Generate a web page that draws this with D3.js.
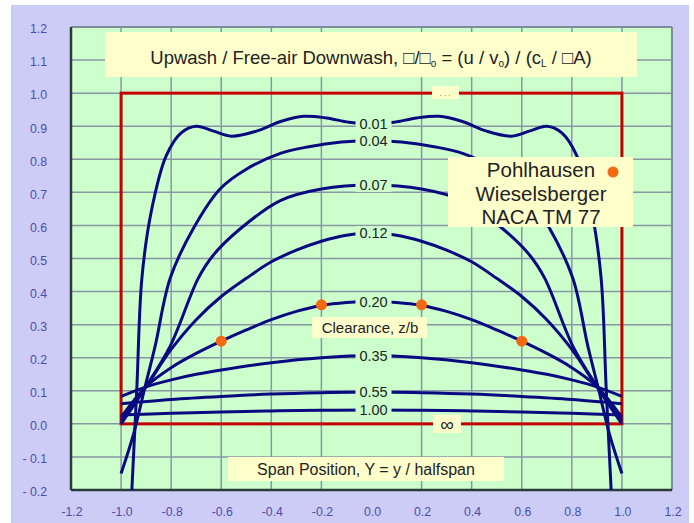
<!DOCTYPE html>
<html lang="en">
<head>
<meta charset="UTF-8">
<title>Ground effect upwash</title>
<script src="https://cdn.jsdelivr.net/npm/d3@7"></script>
<style>
    body { margin: 0; background: #fff; }
    svg text { font-family: Arial, "Liberation Sans", sans-serif; }
    .tick-label { fill: #4c4cac; font-size: 12.3px; }
    .grid line { stroke: #8896a4; stroke-width: 1.5; }
</style>
</head>
<body>
<svg id="chart" width="694" height="523"></svg>
<script>
    // clearance ratio z/b, one curve each
    var clearances = ["0.01", "0.04", "0.07", "0.12", "0.20", "0.35", "0.55", "1.00"];

    var c001 = [[-0.957,-0.20],[-0.937,0.11],[-0.917,0.44],[-0.88,0.64],[-0.82,0.81],[-0.76,0.88],[-0.70,0.90],[-0.63,0.885],[-0.56,0.87],[-0.46,0.885],[-0.36,0.915],[-0.27,0.93],[-0.18,0.925],[-0.09,0.912],[0,0.907],
                [0.09,0.912],[0.18,0.925],[0.27,0.93],[0.36,0.915],[0.46,0.885],[0.56,0.87],[0.63,0.885],[0.70,0.90],[0.76,0.88],[0.82,0.81],[0.88,0.64],[0.917,0.44],[0.937,0.11],[0.957,-0.20]];
    var c004 = [[-1.0,-0.15],[-0.95,-0.03],[-0.904,0.113],[-0.864,0.235],[-0.804,0.44],[-0.712,0.59],[-0.604,0.711],[-0.5,0.77],[-0.364,0.818],[-0.25,0.838],[-0.12,0.852],[0,0.857],
                [0.12,0.852],[0.25,0.838],[0.364,0.818],[0.5,0.77],[0.604,0.711],[0.712,0.59],[0.804,0.44],[0.864,0.235],[0.904,0.113],[0.95,-0.03],[1.0,-0.15]];
    var c007 = [[-1.0,0.0],[-0.95,0.055],[-0.9,0.113],[-0.804,0.235],[-0.692,0.44],[-0.632,0.51],[-0.524,0.59],[-0.364,0.675],[-0.2,0.71],[0,0.722],
                [0.2,0.71],[0.364,0.675],[0.524,0.59],[0.632,0.51],[0.692,0.44],[0.804,0.235],[0.9,0.113],[0.95,0.055],[1.0,0.0]];
    var c012 = [[-1.0,0.01],[-0.9,0.113],[-0.8,0.225],[-0.7,0.315],[-0.6,0.385],[-0.5,0.44],[-0.4,0.49],[-0.3,0.525],[-0.2,0.552],[-0.1,0.57],[0,0.577],
                [0.1,0.57],[0.2,0.552],[0.3,0.525],[0.4,0.49],[0.5,0.44],[0.6,0.385],[0.7,0.315],[0.8,0.225],[0.9,0.113],[1.0,0.01]];
    var c020 = [[-1.0,0.02],[-0.9,0.113],[-0.8,0.17],[-0.7,0.213],[-0.6,0.25],[-0.5,0.284],[-0.4,0.315],[-0.3,0.34],[-0.2,0.358],[-0.1,0.367],[0,0.37],
                [0.1,0.367],[0.2,0.358],[0.3,0.34],[0.4,0.315],[0.5,0.284],[0.6,0.25],[0.7,0.213],[0.8,0.17],[0.9,0.113],[1.0,0.02]];
    var c035 = [[-1.0,0.083],[-0.9,0.112],[-0.8,0.133],[-0.7,0.15],[-0.6,0.163],[-0.4,0.185],[-0.2,0.2],[0,0.207],
                [0.2,0.2],[0.4,0.185],[0.6,0.163],[0.7,0.15],[0.8,0.133],[0.9,0.112],[1.0,0.083]];
    var c055 = [[-1.0,0.061],[-0.8,0.074],[-0.6,0.083],[-0.4,0.09],[-0.2,0.094],[0,0.096],
                [0.2,0.094],[0.4,0.09],[0.6,0.083],[0.8,0.074],[1.0,0.061]];
    var c100 = [[-1.0,0.027],[-0.8,0.032],[-0.6,0.036],[-0.4,0.039],[-0.2,0.041],[0,0.042],
                [0.2,0.041],[0.4,0.039],[0.6,0.036],[0.8,0.032],[1.0,0.027]];

    var curves = [c001, c004, c007, c012, c020, c035, c055, c100];

    // Pohlhausen / Wieselsberger test points
    var pohlX = [-0.6, -0.2, 0.2, 0.6];
    var pohlY = [0.25, 0.36, 0.36, 0.25];

    var xTicks = [-1.2, -1.0, -0.8, -0.6, -0.4, -0.2, 0.0, 0.2, 0.4, 0.6, 0.8, 1.0, 1.2];
    var yTicks = [-0.2, -0.1, 0.0, 0.1, 0.2, 0.3, 0.4, 0.5, 0.6, 0.7, 0.8, 0.9, 1.0, 1.1, 1.2];

    var svg = d3.select("#chart");

    var pLeft = 71, pRight = 672, pTop = 27, pBottom = 490;

    var x = d3.scaleLinear().domain([-1.2, 1.2]).range([pLeft, pRight]);
    var y = d3.scaleLinear().domain([-0.2, 1.2]).range([pBottom, pTop]);

    // backgrounds
    svg.append("rect").attr("x", 11).attr("y", 5).attr("width", 678).attr("height", 518).attr("fill", "#ccccf6");
    svg.append("rect").attr("x", pLeft).attr("y", pTop).attr("width", pRight - pLeft).attr("height", pBottom - pTop)
        .attr("fill", "#ccffcc");

    // grid
    var grid = svg.append("g").attr("class", "grid");
    grid.selectAll("line.v")
        .data(xTicks.filter(function (d) { return Math.abs(d) > 1e-9; }))
        .enter().append("line")
        .attr("class", "v")
        .attr("x1", function (d) { return x(d); })
        .attr("x2", function (d) { return x(d); })
        .attr("y1", pTop).attr("y2", pBottom);
    grid.selectAll("line.h")
        .data(yTicks)
        .enter().append("line")
        .attr("class", "h")
        .attr("x1", pLeft).attr("x2", pRight)
        .attr("y1", function (d) { return y(d); })
        .attr("y2", function (d) { return y(d); });

    // plot frame: dark left/bottom, grey top/right
    svg.append("line").attr("x1", pLeft).attr("x2", pRight).attr("y1", pTop).attr("y2", pTop)
        .attr("stroke", "#7f8c99").attr("stroke-width", 2);
    svg.append("line").attr("x1", pRight).attr("x2", pRight).attr("y1", pTop).attr("y2", pBottom)
        .attr("stroke", "#7f8c99").attr("stroke-width", 2);
    svg.append("line").attr("x1", pLeft).attr("x2", pLeft).attr("y1", pTop).attr("y2", pBottom)
        .attr("stroke", "#2e3a3a").attr("stroke-width", 2.5);
    svg.append("line").attr("x1", pLeft).attr("x2", pRight).attr("y1", pBottom).attr("y2", pBottom)
        .attr("stroke", "#2e3a3a").attr("stroke-width", 2.5);

    // tick labels
    svg.append("g").selectAll("text")
        .data(yTicks)
        .enter().append("text")
        .attr("class", "tick-label")
        .attr("x", 47)
        .attr("y", function (d) { return y(d) + 2; })
        .attr("dy", "0.35em")
        .attr("text-anchor", "end")
        .text(function (d) { return d < 0 ? "- " + Math.abs(d).toFixed(1) : d.toFixed(1); });

    svg.append("g").selectAll("text")
        .data(xTicks)
        .enter().append("text")
        .attr("class", "tick-label")
        .attr("x", function (d) { return x(d) + 1; })
        .attr("y", 512)
        .attr("dy", "0.35em")
        .attr("text-anchor", "middle")
        .text(function (d) { return d.toFixed(1); });

    // title box
    svg.append("rect").attr("x", 105).attr("y", 32).attr("width", 532).attr("height", 45).attr("fill", "#ffffcc");
    var title = svg.append("text")
        .attr("x", 371).attr("y", 64)
        .attr("text-anchor", "middle")
        .attr("font-size", 18.5)
        .attr("fill", "#222");
    title.append("tspan").text("Upwash / Free-air Downwash, \u25a1/\u25a1");
    title.append("tspan").attr("font-size", 10).attr("dy", 3).text("o");
    title.append("tspan").attr("dy", -3).text(" = (u / v");
    title.append("tspan").attr("font-size", 10).attr("dy", 3).text("o");
    title.append("tspan").attr("dy", -3).text(") / (c");
    title.append("tspan").attr("font-size", 10).attr("dy", 3).text("L");
    title.append("tspan").attr("dy", -3).text(" / \u25a1A)");

    // red rectangle, span -1..1 by 0..1
    svg.append("rect")
        .attr("x", x(-1)).attr("y", y(1))
        .attr("width", x(1) - x(-1)).attr("height", y(0) - y(1))
        .attr("fill", "none").attr("stroke", "#c40000").attr("stroke-width", 3);

    // curves
    svg.append("clipPath").attr("id", "plotClip")
        .append("rect").attr("x", pLeft).attr("y", pTop).attr("width", pRight - pLeft).attr("height", pBottom - pTop);

    var line = d3.line()
        .x(function (d) { return x(d[0]); })
        .y(function (d) { return y(d[1]); })
        .curve(d3.curveCatmullRom.alpha(0.5));

    svg.append("g").attr("clip-path", "url(#plotClip)")
        .selectAll("path")
        .data(curves)
        .enter().append("path")
        .attr("d", line)
        .attr("fill", "none")
        .attr("stroke", "#0a0a80")
        .attr("stroke-width", 3);

    // inline curve labels at mid-span
    var labels = svg.append("g").selectAll("g")
        .data(curves)
        .enter().append("g")
        .attr("transform", function (d) {
            var mid = d.filter(function (p) { return p[0] === 0; })[0];
            return "translate(" + (x(0) + 2) + "," + y(mid[1]) + ")";
        });
    labels.append("rect")
        .attr("x", -18).attr("y", -7).attr("width", 36).attr("height", 14)
        .attr("fill", "#ccffcc");
    labels.append("text")
        .attr("text-anchor", "middle")
        .attr("dy", "0.36em")
        .attr("font-size", 14.5)
        .attr("fill", "#222")
        .text(function (d, i) { return clearances[i]; });

    // infinity label on the bottom red edge, stub label on the top edge
    svg.append("rect").attr("x", 433).attr("y", y(0) - 9).attr("width", 28).attr("height", 18).attr("fill", "#ffffcc");
    svg.append("text").attr("x", 447).attr("y", y(0)).attr("dy", "0.35em").attr("text-anchor", "middle")
        .attr("font-size", 19).attr("fill", "#222").text("\u221e");
    svg.append("rect").attr("x", 432).attr("y", y(1) - 7).attr("width", 27).attr("height", 13).attr("fill", "#ffffcc");
    svg.append("text").attr("x", 445).attr("y", y(1) + 3).attr("text-anchor", "middle")
        .attr("font-size", 8).attr("fill", "#555").text(". . .");

    // Pohlhausen points
    svg.append("g").selectAll("circle")
        .data(pohlX)
        .enter().append("circle")
        .attr("cx", function (d) { return x(d); })
        .attr("cy", function (d, i) { return y(pohlY[i]); })
        .attr("r", 5.5)
        .attr("fill", "#f56a10");

    // clearance caption
    svg.append("rect").attr("x", 312).attr("y", 317).attr("width", 115).attr("height", 21).attr("fill", "#ffffcc");
    svg.append("text").attr("x", 370).attr("y", 327.5).attr("dy", "0.35em").attr("text-anchor", "middle")
        .attr("font-size", 15).attr("fill", "#222").text("Clearance, z/b");

    // legend
    svg.append("rect").attr("x", 448).attr("y", 157).attr("width", 185).attr("height", 70).attr("fill", "#ffffcc");
    var legendLines = ["Pohlhausen", "Wieselsberger", "NACA TM 77"];
    svg.append("g").selectAll("text")
        .data(legendLines)
        .enter().append("text")
        .attr("x", 541)
        .attr("y", function (d, i) { return 170 + i * 23.5; })
        .attr("dy", "0.35em")
        .attr("text-anchor", "middle")
        .attr("font-size", 20.5)
        .attr("fill", "#222")
        .text(function (d) { return d; });
    svg.append("circle").attr("cx", 613).attr("cy", 172).attr("r", 5.5).attr("fill", "#f56a10");

    // x axis caption
    svg.append("rect").attr("x", 228).attr("y", 457).attr("width", 276).attr("height", 24).attr("fill", "#ffffcc");
    svg.append("text").attr("x", 366).attr("y", 469).attr("dy", "0.35em").attr("text-anchor", "middle")
        .attr("font-size", 16).attr("fill", "#222").text("Span Position, Y = y / halfspan");
</script>
</body>
</html>
